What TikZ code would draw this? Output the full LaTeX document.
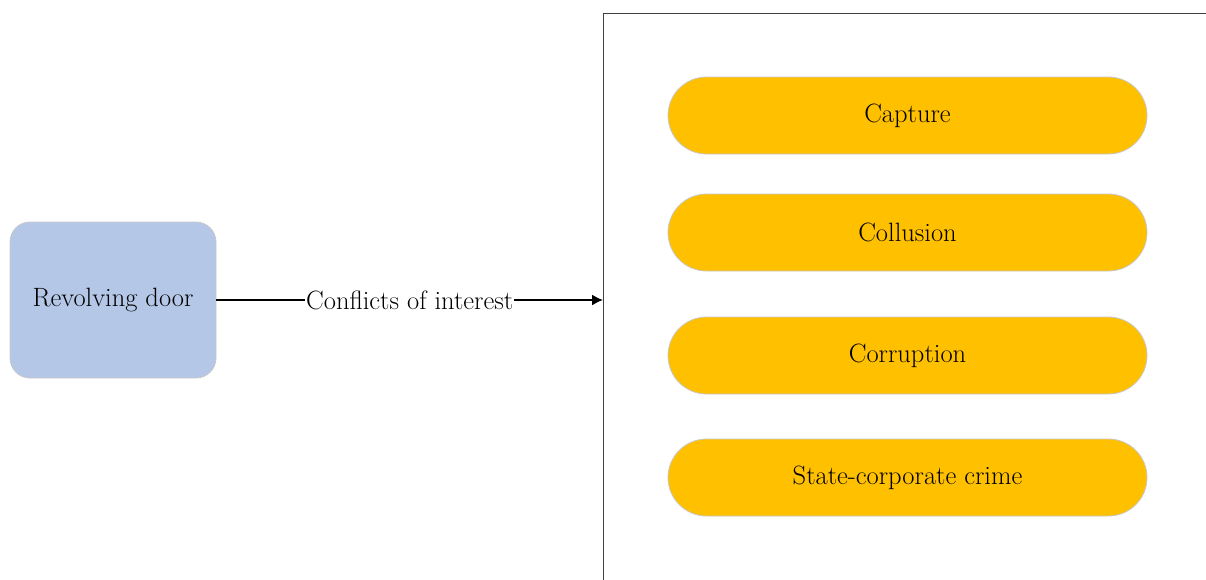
\documentclass[tikz,border=0pt]{standalone}
\usetikzlibrary{arrows.meta}
\definecolor{doorblue}{HTML}{B4C7E7}
\definecolor{pillgold}{HTML}{FFC000}
\definecolor{edgegray}{HTML}{C8C8C8}
\begin{document}
\begin{tikzpicture}[x=1pt,y=-1pt,
  every node/.style={font=\fontsize{26.5}{31}\selectfont},
  doorbox/.style={draw=edgegray, fill=doorblue, rounded corners=20pt,
    minimum width=206pt, minimum height=156pt, line width=0.8pt},
  pill/.style={draw=edgegray, fill=pillgold, rounded corners=38.5pt,
    minimum width=479pt, minimum height=77pt, line width=0.8pt},
  link/.style={line width=1.6pt, -{Latex[length=11pt,width=11pt]}}]
\useasboundingbox (0,0) rectangle (1206,579);
% outer frame, running off the right and bottom edges
\begin{scope}
  \clip (0,0) rectangle (1206,579);
  \draw[line width=1pt, black!75] (603.5,600) -- (603.5,13.5) -- (1230,13.5);
\end{scope}
\coordinate (frame) at (603,300);
% source box
\node[doorbox] (door) at (113,300) {Revolving door};
% outcome pills
\node[pill] (capture)   at (907.5,115.5) {Capture};
\node[pill] (collusion) at (907.5,232.5) {Collusion};
\node[pill] (corrupt)   at (907.5,355.5) {Corruption};
\node[pill] (crime)     at (907.5,477.5) {State-corporate crime};
% connector with its label sitting on the line
\draw[link] (door.east) -- node[fill=white, inner sep=1pt] (coi) {Conflicts of interest} (frame);
\end{tikzpicture}
\end{document}
